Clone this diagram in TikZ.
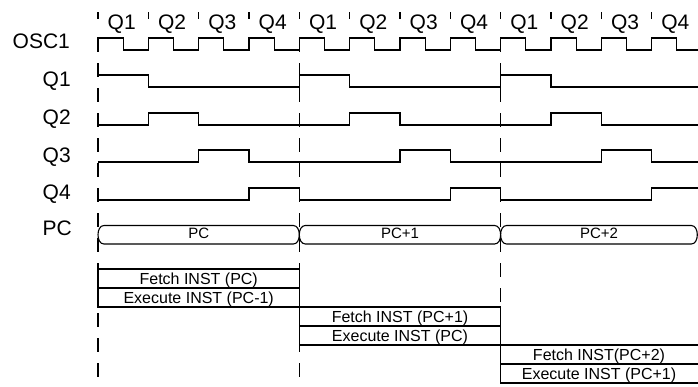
\documentclass[tikz,border=0pt]{standalone}
\usepackage{fontspec}
\setmainfont{Liberation Sans}
\begin{document}
\begin{tikzpicture}[x=1pt,y=-1pt,
  wave/.style={line width=1.1pt, line join=miter},
  vdash/.style={line width=1.1pt, dash pattern=on 14pt off 11pt},
  tick/.style={line width=1.1pt},
  lab/.style={font=\fontsize{21}{22}\selectfont, inner sep=0pt, anchor=base west},
  bustxt/.style={font=\fontsize{15}{15}\selectfont, inner sep=0pt, anchor=base},
  boxtxt/.style={font=\fontsize{16}{16}\selectfont, inner sep=0pt, anchor=base},
  boxline/.style={line width=1.1pt}]
\fill[white] (0,0) rectangle (698,386);
\clip (0,0) rectangle (698,386);
% dashed cycle lines
\foreach \xx in {98,299.32,500.64} {\draw[vdash] (\xx,38) -- (\xx,392);}
% phase ticks and labels
\foreach \k/\q in {0/1,1/2,2/3,3/4,4/1,5/2,6/3,7/4,8/1,9/2,10/3,11/4} {
  \draw[tick] ({98+50.33*\k},12) -- ({98+50.33*\k},19);
  \node[lab] (top\k) at ({107.5+50.33*\k},29) {Q\q};
}
% row labels
\node[lab] (losc) at (12.5,48) {OSC1};
\node[lab] (lq1) at (42.5,86.5) {Q1};
\node[lab] (lq2) at (42.5,124.5) {Q2};
\node[lab] (lq3) at (42.5,162) {Q3};
\node[lab] (lq4) at (42.5,199.5) {Q4};
\node[lab] (lpc) at (42.5,235) {PC};
% OSC1
\draw[wave] (98,50) \foreach \k in {0,...,11} { -- ({98+50.33*\k},38) -- ({123.17+50.33*\k},38) -- ({123.17+50.33*\k},50) -- ({148.33+50.33*\k},50) };
% Q1
\draw[wave] (98,75) -- (148.3,75) -- (148.3,87) -- (299.3,87) -- (299.3,75) -- (349.7,75) -- (349.7,87) -- (500.6,87) -- (500.6,75) -- (551,75) -- (551,87) -- (700,87);
% Q2
\draw[wave] (98,125) -- (148.3,125) -- (148.3,113) -- (198.7,113) -- (198.7,125) -- (349.7,125) -- (349.7,113) -- (400,113) -- (400,125) -- (551,125) -- (551,113) -- (601.3,113) -- (601.3,125) -- (700,125);
% Q3
\draw[wave] (98,162) -- (198.7,162) -- (198.7,150) -- (249,150) -- (249,162) -- (400,162) -- (400,150) -- (450.3,150) -- (450.3,162) -- (601.3,162) -- (601.3,150) -- (651.6,150) -- (651.6,162) -- (700,162);
% Q4
\draw[wave] (98,200) -- (249,200) -- (249,188) -- (299.3,188) -- (299.3,200) -- (450.3,200) -- (450.3,188) -- (500.6,188) -- (500.6,200) -- (651.6,200) -- (651.6,188) -- (700,188);
% PC bus
\foreach \a/\b in {98/299.3,299.3/500.6,500.6/697.3} {
  \draw[wave] ({\a+6},225.5) -- ({\b-6},225.5) .. controls ({\b-2},225.5) and (\b,230) .. (\b,234.75) .. controls (\b,239.5) and ({\b-2},244) .. ({\b-6},244) -- ({\a+6},244) .. controls ({\a+2},244) and (\a,239.5) .. (\a,234.75) .. controls (\a,230) and ({\a+2},225.5) .. ({\a+6},225.5) -- cycle;
}
\node[bustxt] (pc0) at (198.7,238) {PC};
\node[bustxt] (pc1) at (400,238) {PC+1};
\node[bustxt] (pc2) at (599,238) {PC+2};
% instruction boxes
\draw[boxline] (98,269) rectangle (299.3,307);
\draw[boxline] (98,288) -- (299.3,288);
\draw[boxline] (299.3,307) rectangle (500.6,345);
\draw[boxline] (299.3,326) -- (500.6,326);
\draw[boxline] (500.6,345) rectangle (720,383);
\draw[boxline] (500.6,364) -- (720,364);
\node[boxtxt] (f0) at (198.7,284.5) {Fetch INST (PC)};
\node[boxtxt] (e0) at (198.7,303.5) {Execute INST (PC-1)};
\node[boxtxt] (f1) at (400,322.5) {Fetch INST (PC+1)};
\node[boxtxt] (e1) at (400,341.5) {Execute INST (PC)};
\node[boxtxt] (f2) at (599,360.5) {Fetch INST(PC+2)};
\node[boxtxt] (e2) at (599,379.5) {Execute INST (PC+1)};
\end{tikzpicture}
\end{document}
